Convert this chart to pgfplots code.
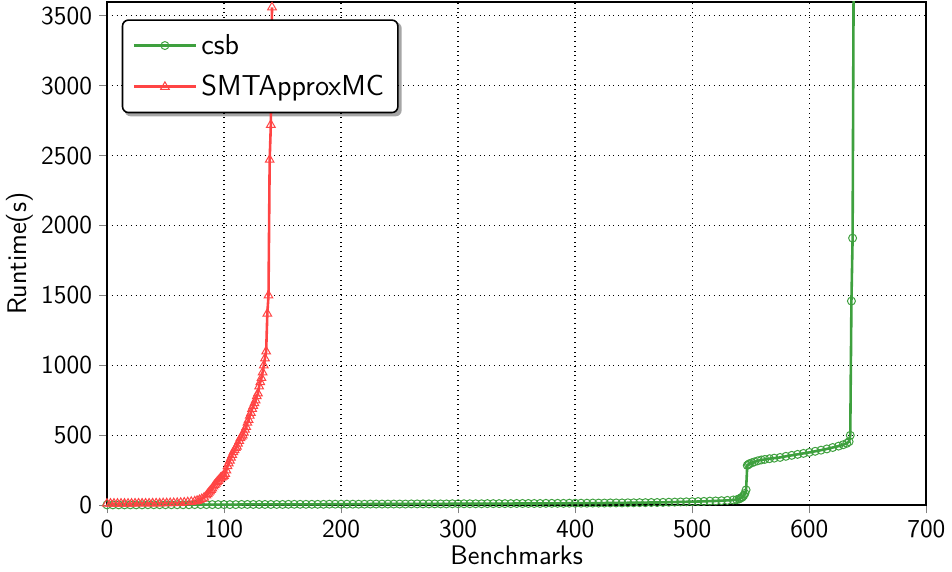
\documentclass[border=0pt]{standalone}
\usepackage{pgfplots}
\pgfplotsset{compat=1.18}
\pgfdeclarelayer{background}
\pgfsetlayers{background,main}

\definecolor{csbgreen}{RGB}{62,160,62}
\definecolor{smtred}{RGB}{255,68,68}

\begin{document}
\begin{tikzpicture}
\begin{axis}[
    scale only axis,
    width=410bp, height=252bp,
    xmin=0, xmax=700, ymin=0, ymax=3600,
    xtick={0,100,...,700},
    ytick={0,500,...,3500},
    tick pos=left,
    tick align=outside,
    major tick length=4pt,
    axis line style={line width=0.9pt},
    grid=major,
    grid style={black, dotted, line width=0.7pt},
    /pgf/number format/assume math mode=true,
    /pgf/number format/1000 sep={},
    tick label style={font=\sffamily\fontsize{13}{15}\selectfont},
    label style={font=\sffamily\fontsize{13.5}{16}\selectfont},
    xlabel={Benchmarks},
    ylabel={Runtime(s)},
    xlabel style={yshift=3pt},
    ylabel style={yshift=-3pt},
    legend style={name=leg, at={(0.018,0.965)}, anchor=north west,
        rounded corners=3pt, draw=black, line width=0.8pt,
        font=\sffamily\fontsize{14.5}{17}\selectfont,
        inner xsep=5pt, inner ysep=5pt, row sep=5pt},
    legend cell align=left,
    legend image code/.code={
        \draw[mark repeat=2,mark phase=2] plot coordinates {(0cm,0cm) (0.55cm,0cm) (1.1cm,0cm)};},
]
\addplot[color=csbgreen, line width=1.3pt, mark=o, mark size=2pt,
    mark options={fill=white, fill opacity=0.5, line width=0.5pt}]
table {
x y
0 3
5 3
10 3
15 3
20 3
25 3
30 3
35 4
40 4
45 4
50 4
55 4
60 4
65 4
70 4
75 5
80 5
85 5
90 5
95 5
100 5
105 5
110 5
115 6
120 6
125 6
130 6
135 6
140 6
145 6
150 6
155 7
160 7
165 7
170 7
175 7
180 7
185 7
190 8
195 8
200 8
205 8
210 8
215 8
220 8
225 9
230 9
235 9
240 9
245 9
250 9
255 9
260 10
265 10
270 10
275 10
280 10
285 10
290 10
295 11
300 11
305 11
310 11
315 11
320 11
325 12
330 12
335 12
340 12
345 12
350 13
355 13
360 13
365 13
370 13
375 14
380 14
385 14
390 14
395 15
400 15
405 15
410 15
415 16
420 16
425 16
430 17
435 17
440 17
445 18
450 18
455 19
460 19
465 20
470 20
475 21
480 22
485 23
490 24
495 25
500 26
505 27
510 28
515 30
520 31
525 33
530 35
535 38
538 40
540 45
541 50
542 55
543 60
544 70
545 85
546 110
547 285
548 292
549 298
551 304
553 310
556 318
559 324
562 328
566 333
570 337
575 342
580 350
585 357
590 364
595 371
600 378
605 386
610 394
615 403
620 413
625 423
629 433
632 443
634 455
635 500
636 1460
637 1910
638 4000
};
\addlegendentry{csb}

\addplot[color=smtred, line width=1.3pt, mark=triangle, mark size=2.5pt,
    mark options={fill=white, fill opacity=0.5, line width=0.5pt}]
table {
x y
0 12
3 12
6 12
9 12
12 12
15 12
18 12
21 12
24 13
27 13
30 13
33 13
36 13
39 14
42 14
45 14
48 15
51 15
54 16
57 16
60 17
63 18
66 20
69 22
72 25
75 28
77 32
79 38
81 45
83 55
85 70
86 80
87 90
88 100
89 110
90 120
91 135
92 145
93 155
94 165
95 175
96 185
97 195
98 200
99 205
100 210
101 225
102 250
103 280
104 300
105 320
106 340
107 360
108 380
109 395
110 410
111 420
112 440
113 460
114 480
115 490
116 500
117 520
118 540
119 560
120 590
121 610
122 640
123 660
124 690
125 710
126 730
127 750
128 780
129 800
130 850
131 880
132 910
133 950
134 1000
135 1050
136 1100
137 1370
138 1500
139 2470
140 2720
141 3560
};
\addlegendentry{SMTApproxMC}
\end{axis}
\begin{pgfonlayer}{background}
\fill[black!35, rounded corners=3pt]
    ([shift={(1.5pt,-1.5pt)}]leg.south west) rectangle ([shift={(1.5pt,-1.5pt)}]leg.north east);
\end{pgfonlayer}
\end{tikzpicture}
\end{document}
